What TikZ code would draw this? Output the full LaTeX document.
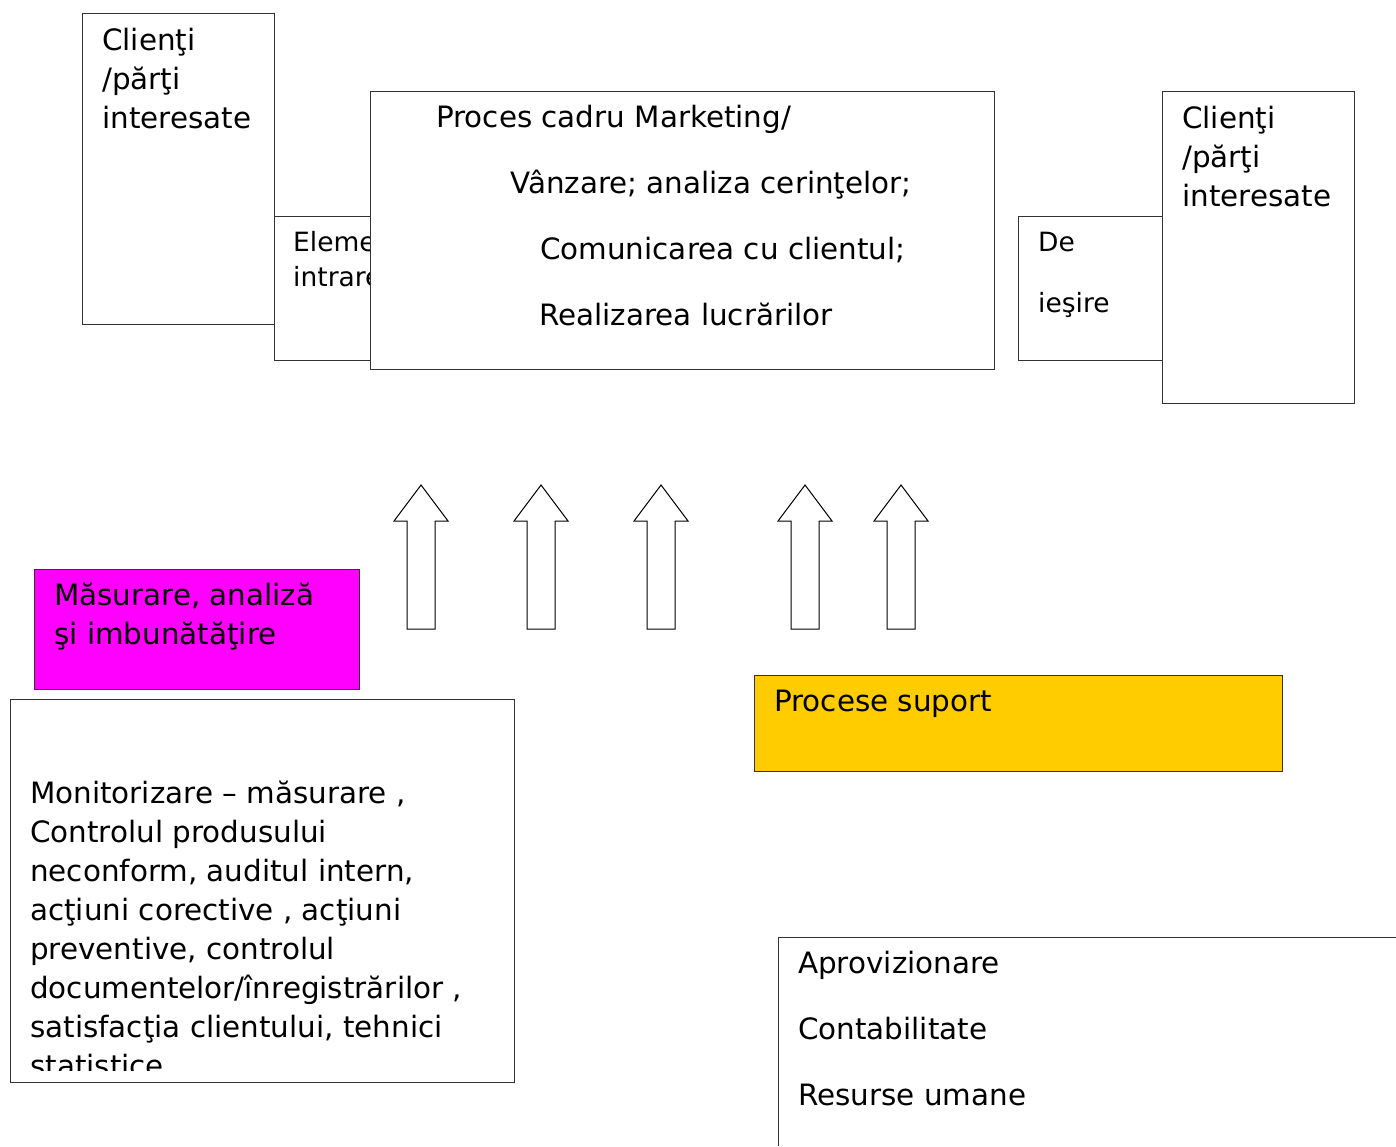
\documentclass[tikz,border=0pt]{standalone}
\usepackage{fontspec}
\setmainfont{DejaVu Sans}
\definecolor{mag}{HTML}{FF00FF}
\definecolor{gold}{HTML}{FFCC00}
\definecolor{edge}{HTML}{333333}
\begin{document}
\begin{tikzpicture}[x=1pt,y=-1pt,
  box/.style={draw=edge,line width=1pt},
  big/.style={font=\fontsize{29.4}{39}\selectfont,inner sep=0pt,anchor=base west},
  small/.style={font=\fontsize{26.5}{32}\selectfont,inner sep=0pt,anchor=base west},
  blockarrow/.style={draw=black,line width=1pt,fill=white,line join=miter}]
\useasboundingbox (0,0) rectangle (1396,1146);
% left clients
\draw[box] (82,13) rectangle (274,324);
\node[big] (cl1) at (102,50) {Clienţi};
\node[big] (cl2) at (102,89) {/părţi};
\node[big] (cl3) at (102,128) {interesate};
% input elements
\draw[box] (274,216) rectangle (370,360);
\node[small] (in1) at (293,251) {Elemente};
\node[small] (in2) at (293,286) {intrare};
% process box
\draw[box,fill=white] (370,91) rectangle (994,369);
\node[big] (p1) at (436,127) {Proces cadru Marketing/};
\node[big] (p2) at (510,193) {Vânzare; analiza cerinţelor;};
\node[big] (p3) at (540,259) {Comunicarea cu clientul;};
\node[big] (p4) at (539,325) {Realizarea lucrărilor};
% output
\draw[box] (1018,216) rectangle (1162,360);
\node[small] (o1) at (1038,251) {De};
\node[small] (o2) at (1038,312) {ieşire};
% right clients
\draw[box] (1162,91) rectangle (1354,403);
\node[big] (cr1) at (1182,128) {Clienţi};
\node[big] (cr2) at (1182,167) {/părţi};
\node[big] (cr3) at (1182,206) {interesate};
% block arrows
\foreach \cx in {421,541,661,805,901}{
  \draw[blockarrow] (\cx,485) -- (\cx+27,521) -- (\cx+14,521) -- (\cx+14,629)
    -- (\cx-14,629) -- (\cx-14,521) -- (\cx-27,521) -- cycle;
}
% measurement box
\draw[box,fill=mag] (34,569) rectangle (359,689);
\node[big] (m1) at (54,605) {Măsurare, analiză};
\node[big] (m2) at (54,644) {şi imbunătăţire};
% monitoring box
\draw[box] (10,699) rectangle (514,1082);
\begin{scope}
\clip (11,700) rectangle (513,1070);
\node[big] (t1) at (30,803) {Monitorizare – măsurare ,};
\node[big] (t2) at (30,842) {Controlul produsului};
\node[big] (t3) at (30,881) {neconform, auditul intern,};
\node[big] (t4) at (30,920) {acţiuni corective , acţiuni};
\node[big] (t5) at (30,959) {preventive, controlul};
\node[big] (t6) at (30,998) {documentelor/înregistrărilor ,};
\node[big] (t7) at (30,1037) {satisfacţia clientului, tehnici};
\node[big] (t8) at (30,1076) {statistice};
\end{scope}
% support processes
\draw[box,fill=gold] (754,675) rectangle (1282,771);
\node[big] (s1) at (774,711) {Procese suport};
% bottom right box
\draw[box] (778,1146) -- (778,937) -- (1396,937);
\node[big] (b1) at (798,973) {Aprovizionare};
\node[big] (b2) at (798,1039) {Contabilitate};
\node[big] (b3) at (798,1105) {Resurse umane};
\end{tikzpicture}
\end{document}
